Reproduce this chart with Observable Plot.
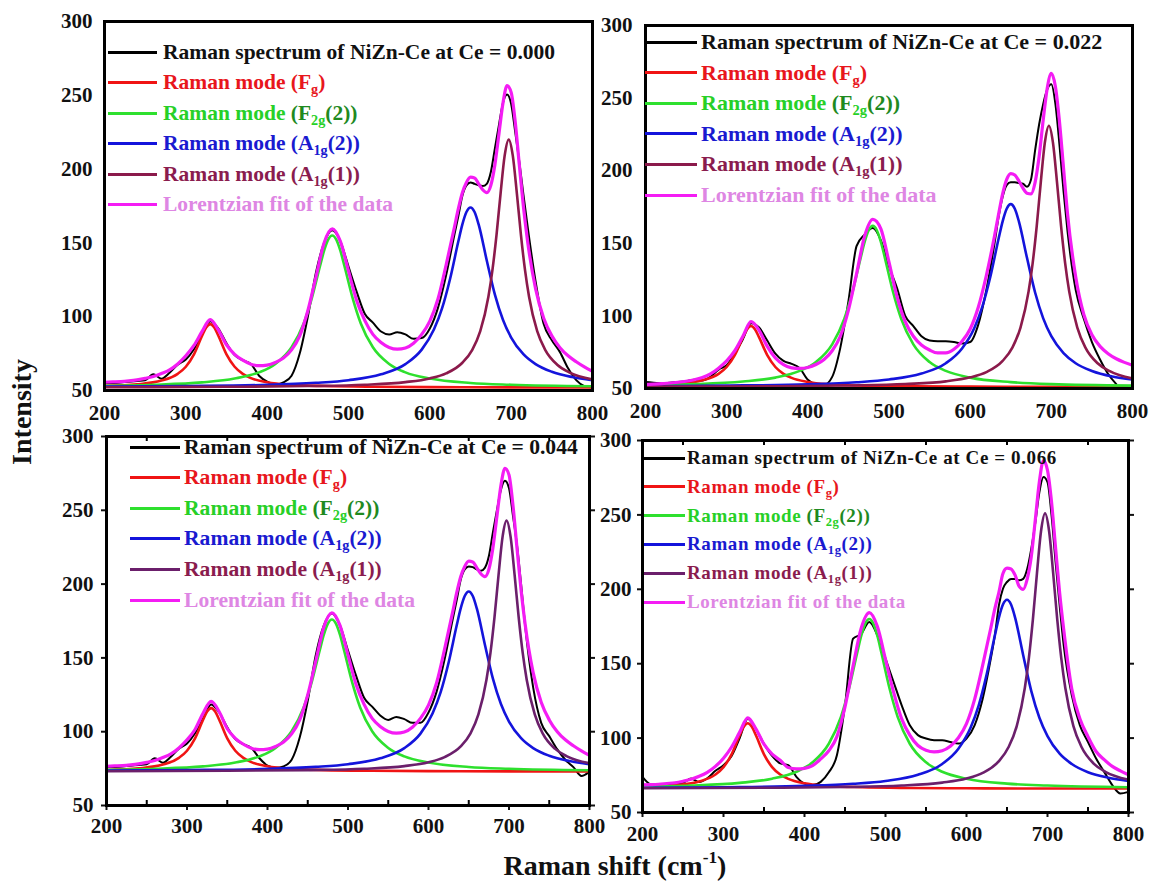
<!DOCTYPE html>
<html>
<head>
<meta charset="utf-8">
<script src="https://cdn.jsdelivr.net/npm/d3@7"></script>
<script src="https://cdn.jsdelivr.net/npm/@observablehq/plot@0.6"></script>
<style>
  body { margin: 0; background: #fff; }
  #fig { position: relative; width: 1149px; height: 883px; overflow: hidden;
         font-family: "Liberation Serif", "Times New Roman", serif; font-weight: bold; color: #111; }
  .row { position: absolute; white-space: nowrap; display: flex; align-items: center; height: 30px; }
  .sw { display: inline-block; height: 0; border-top: 3px solid; }
  .row sub { font-size: 0.66em; vertical-align: -0.32em; line-height: 0; }
  .dk { color: #1f8a1f; }
  .title { position: absolute; white-space: nowrap; font-size: 28px; }
  .title sup { font-size: 0.62em; vertical-align: 0.7em; line-height: 0; }
</style>
</head>
<body>
<div id="fig"></div>
<script>
// ---- axes ----
const xTicks = [200, 300, 400, 500, 600, 700, 800];
const yTicks = [50, 100, 150, 200, 250, 300];
const minorXTicks = [250, 350, 450, 550, 650, 750];
const ceLevels = ["0.000", "0.022", "0.044", "0.066"];

// ---- legend labels ----
const legendLabels = [
  "Raman spectrum of NiZn-Ce at Ce = ",
  "Raman mode (F<sub>g</sub>)",
  "Raman mode <span class=\"dk\">(F</span><sub>2g</sub><span class=\"dk\">(2))</span>",
  "Raman mode (A<sub>1g</sub>(2))",
  "Raman mode (A<sub>1g</sub>(1))",
  "Lorentzian fit of the data"
];

// ---- Raman shift sampling (cm^-1) ----
const shiftGrid = [200,210,220,230,240,250,260,270,280,290,300,310,320,330,340,350,360,370,380,390,400,410,420,430,440,450,460,470,480,490,500,510,520,530,540,550,560,570,580,590,600,610,620,630,635,640,645,650,655,660,665,670,675,680,685,690,695,700,705,710,715,720,730,740,750,760,770,780,790,800];
const fgShift   = [200,240,270,290,300,310,320,325,330,335,340,350,360,370,380,400,430,470,530,600,700,800];
const f2gShift  = [200,260,320,360,390,410,430,445,455,465,470,475,480,485,490,495,505,515,530,550,570,600,650,700,800];
const a1g2Shift = [200,300,400,460,500,540,570,590,605,615,625,635,640,645,650,655,660,670,680,690,700,715,730,750,775,800];
const a1g1Shift = [200,350,450,520,570,600,620,640,652,662,672,677,682,687,692,697,702,707,712,717,722,732,742,757,772,800];

// ---- Ce = 0.000 ----
const spec_000 = [55,55,55.5,56,56.5,57,61,58,62,67.5,71,78,88,97,92,82,74,70.5,68,60,56,54,55.5,60,75,100,130,150,158.5,151,134,117,102,96,90,88,89.5,88,85,85.5,92,106,128,155,168,182,189,191,190,189,188.5,190,198,214,230,245,250.5,244,225,205,183,162,124,95,84,76,65,57,53,52];
const fit_000 = [55.6,55.8,56,56.5,57.2,58.2,59.5,61.5,64,68,73.5,80.5,90,98,91,81,74.5,70.5,67.8,66.8,67.2,69,72,77.5,87,104,127,150,159.5,151,131,111,97.5,88,82.5,79.2,78,78.8,82,88,97,112,135,160,173,184,191,194.5,194,190,186,184,189,203,224,245,256.5,252,232,203,175,152,119,99,87,79,73.5,69.5,66,63];
const fg_000 = [53.1,54.2,56.7,61.3,66.1,74.5,87.1,92.7,95,92.7,87.1,74.5,66.1,61.3,58.4,55.6,53.8,53.0,52.5,52.3,52.1,52.1];
const f2g_000 = [53.2,53.9,55.5,58.1,62.3,68.0,79.3,95.6,112.8,134.4,144.7,152.2,155,152.2,144.7,134.4,112.8,95.6,79.3,68.0,62.3,58.1,55.1,53.9,52.9];
const a1g2_000 = [52.6,53.0,53.8,55.2,57.0,61.0,67.9,77.7,91.3,105.6,125.9,150.9,162.5,170.9,174,170.9,162.5,138.1,115.0,97.8,85.9,74.6,67.9,62.7,59.1,57.0];
const a1g1_000 = [52.2,52.5,53.0,53.9,55.7,58.2,61.6,68.8,77.4,90.2,113.5,131.7,155.5,183.6,209.1,220,209.1,183.6,155.5,131.7,113.5,90.2,77.4,67.3,62.1,57.5];

// ---- Ce = 0.022 ----
const spec_022 = [54.5,54,53.5,54,54.5,55,56,55.5,58,63,66,74,84,95,92,83,74,69,67,64,56,53,52.5,58,78,110,148,156,160.5,152,134,119,100,93,86,83,82.5,82.5,82,81,82,94,118,150,168,182,190,192,192,191.5,191,189,194,214,232,246,256,259.5,246,218,186,158,118,98,82,70,60,53,null,null];
const fit_022 = [52.8,53,53.3,53.8,54.3,55,56,57.5,60,64,69,76,86,96,90,79,71,66.5,64.2,63.8,64.5,66.5,70,76,86,104,129,155,166.5,160,137,113,96,86,80,76.5,74.5,74.5,77,82.5,91,106,128,155,170,184,194,198,197,193,188,184.5,184,192,210,235,257,267,258,234,202,170,127,101,87,79,74,70.5,68,66];
const fg_022 = [52.1,53.2,55.6,60.1,64.8,73.0,85.2,90.7,93,90.7,85.2,73.0,64.8,60.1,57.3,54.5,52.8,51.9,51.5,51.3,51.1,51.1];
const f2g_022 = [52.3,53.0,54.8,57.5,62.1,68.2,80.4,98.0,116.5,139.8,150.9,159.0,162,159.0,150.9,139.8,116.5,98.0,80.4,68.2,62.1,57.5,54.4,53.0,52.0];
const a1g2_022 = [51.6,52.0,52.9,54.3,56.2,60.3,67.4,77.6,91.5,106.4,127.3,153.1,165.1,173.8,177,173.8,165.1,140.0,116.1,98.3,86.0,74.4,67.4,62.1,58.3,56.2];
const a1g1_022 = [51.3,51.5,52.1,53.1,54.9,57.7,61.3,69,78.2,92.0,116.9,136.4,161.9,192.0,219.3,231,219.3,192.0,161.9,136.4,116.9,92.0,78.2,67.4,61.9,56.9];

// ---- Ce = 0.044 ----
const spec_044 = [76,76,76.5,77,77.5,78,82,79,83,88.5,92,99,109,118.5,113,103,95,91.5,89,82,77,75.5,76.5,81,96,121,152,172,180,172,155,138,123,117,111,108,110,108.5,106,106,113,127,149,176,189,203,210,212,211.5,210,209,211,219,235,250,264,270,265,246,226,200,172,130,106,97,88,81,76,70,73];
const fit_044 = [76.6,76.8,77,77.5,78.2,79.2,80.5,82.5,85,89,94.5,101.5,112.5,120.5,113.5,102,95.5,91.5,88.8,87.8,88.2,90,93,98.5,108,125,148,171,180.5,172,152,132,118.5,109,103.5,100.2,99,99.8,103,109,118,133,156,181,194,205,212,215.5,215,211,207,205,210,224.5,246,267,278.5,274,253,224,196,173,140,120,108,100,94.5,90.5,87,84];
const fg_044 = [74.1,75.2,77.7,82.3,87.1,95.5,108.1,113.7,116,113.7,108.1,95.5,87.1,82.3,79.4,76.6,74.8,74.0,73.5,73.3,73.1,73.1];
const f2g_044 = [74.2,74.9,76.5,79.1,83.3,89.0,100.3,116.6,133.8,155.4,165.7,173.2,176,173.2,165.7,155.4,133.8,116.6,100.3,89.0,83.3,79.1,76.1,74.9,73.9];
const a1g2_044 = [73.6,74.0,74.8,76.2,78.0,82.0,88.9,98.7,112.3,126.6,146.9,171.9,183.5,191.9,195,191.9,183.5,159.1,136.0,118.8,106.9,95.6,88.9,83.7,80.1,78.0];
const a1g1_044 = [73.2,73.5,74.0,74.9,76.7,79.3,82.8,90,98.7,111.7,135.2,153.6,177.7,206.1,232.0,243,232.0,206.1,177.7,153.6,135.2,111.7,98.7,88.5,83.3,78.6];

// ---- Ce = 0.066 ----
const spec_066 = [74,69,68.5,69,69.5,70,72.8,70.5,73,78,81.8,88,100,113,106,96,88,83,81.8,74,69.5,68.4,70.6,77,88.5,122,166.8,170,178,169,153.4,137.7,122,108.6,102,99.7,98.6,98.6,97.4,96.3,99.7,108.6,126.5,153.4,169,189.2,200.4,204.9,207,207,206,207,213.8,227.3,245,265.3,275.4,272,249.6,218.3,189.2,162.4,128.8,108.6,97.4,86.3,77.3,68.4,62.8,63.9];
const fit_066 = [68.5,68.7,69,69.5,70,71,72.3,74.3,77,81,86.5,94,104,113.6,106.2,95.9,89.2,85.1,80.2,79.3,79.7,81.5,86,91.5,101,121,148.5,173.8,184.3,174.9,152.9,130.9,112.9,102,95,91.8,90.7,91.5,94.5,100.2,109.7,126,149,174,187,198,210.6,214.2,213.7,209.5,202,200,207,222,247,272.5,286.5,280,258.6,227.6,197.6,173,133,113,101,91,85.5,81,78,75.4];
const fg_066 = [67.1,68.3,70.8,75.5,80.5,89.1,101.9,107.6,110,107.6,101.9,89.1,80.5,75.5,72.6,69.6,67.9,67.0,66.5,66.3,66.1,66.1];
const f2g_066 = [67.3,68.1,69.9,72.7,77.4,83.7,96.2,114.3,133.3,157.2,168.6,176.9,180,176.9,168.6,157.2,133.3,114.3,96.2,83.7,77.4,72.7,69.4,68.1,67.0];
const a1g2_066 = [66.6,67.0,67.9,69.3,71.2,75.3,82.6,92.8,106.9,121.8,143.0,168.9,181.0,189.8,193,189.8,181.0,155.7,131.6,113.7,101.3,89.5,82.6,77.1,73.4,71.2];
const a1g1_066 = [66.3,66.6,67.1,68.1,70.1,72.8,76.6,84.5,94.0,108.1,133.7,153.8,180.0,210.9,239.0,251,239.0,210.9,180.0,153.8,133.7,108.1,94.0,82.9,77.2,72.1];

const series = [
  {spec: spec_000, fit: fit_000, fg: fg_000, f2g: f2g_000, a1g2: a1g2_000, a1g1: a1g1_000},
  {spec: spec_022, fit: fit_022, fg: fg_022, f2g: f2g_022, a1g2: a1g2_022, a1g1: a1g1_022},
  {spec: spec_044, fit: fit_044, fg: fg_044, f2g: f2g_044, a1g2: a1g2_044, a1g1: a1g1_044},
  {spec: spec_066, fit: fit_066, fg: fg_066, f2g: f2g_066, a1g2: a1g2_066, a1g1: a1g1_066}
];

// ---- styling ----
const lineColors = {spec: "#000000", fg: "#f01414", f2g: "#2ee02e", a1g2: "#1414dc", fit: "#f41cf4"};
const textColors = ["#111111", "#e8161c", "#27d027", "#1a1ad0", "#8a1c4e", "#de86e3"];

// frame box [left, top, right, bottom] of each panel, axis tick style, legend placement
const layout = [
  {box: [104, 21, 592, 390], tick: 0, xPad: 15, yPad: 12, a1Color: "#8b1a4b",
   legend: {x: 108, y: 52, step: 30.5, swatch: 49, gap: 6, font: 21.5, spacing: 0}},
  {box: [645, 25, 1132, 388], tick: 0, xPad: 15, yPad: 13, a1Color: "#8b1a4b",
   legend: {x: 645, y: 42, step: 30.6, swatch: 52, gap: 4, font: 22, spacing: 0}},
  {box: [106, 436, 589, 805], tick: 5, xPad: 8, yPad: 8, a1Color: "#6b1f6b",
   legend: {x: 130, y: 447, step: 30.6, swatch: 50, gap: 4, font: 21.6, spacing: 0}},
  {box: [642, 440, 1128, 812], tick: 5, xPad: 9, yPad: 6, a1Color: "#6b1f6b",
   legend: {x: 644, y: 458, step: 28.8, swatch: 41, gap: 2, font: 19, spacing: 0.6}}
];

const fig = document.getElementById("fig");

function drawPanel(i) {
  const L = layout[i], S = series[i];
  const [x0, y0, x1, y1] = L.box;
  const mL = 60, mR = 14, mT = 12, mB = 40;
  const w = x1 - x0, h = y1 - y0;
  const pts = (xs, ys) => xs.map((x, k) => ({x, y: ys[k]}));
  const line = (xs, ys, stroke, sw) =>
    Plot.line(pts(xs, ys), {x: "x", y: "y", stroke, strokeWidth: sw, curve: "monotone-x", clip: true});

  const marks = [
    line(shiftGrid, S.spec, lineColors.spec, 2),
    line(fgShift, S.fg, lineColors.fg, 2.6),
    line(f2gShift, S.f2g, lineColors.f2g, 2.6),
    line(a1g2Shift, S.a1g2, lineColors.a1g2, 2.6),
    line(a1g1Shift, S.a1g1, L.a1Color, 2.6),
    line(shiftGrid, S.fit, lineColors.fit, 3.2),
    Plot.axisX({ticks: xTicks, tickSize: L.tick, tickPadding: L.xPad, label: null, strokeWidth: 2}),
    Plot.axisY({ticks: yTicks, tickSize: L.tick, tickPadding: L.yPad, label: null, strokeWidth: 2})
  ];
  if (L.tick) {
    marks.push(
      Plot.axisY({anchor: "right", ticks: yTicks, tickSize: L.tick, tickFormat: () => "", label: null, strokeWidth: 2}),
      Plot.tickX(minorXTicks, {x: d => d, insetTop: h - 5, stroke: "#000", strokeWidth: 2}),
      Plot.tickX(minorXTicks, {x: d => d, insetBottom: h - 5, stroke: "#000", strokeWidth: 2})
    );
  }
  marks.push(Plot.frame({stroke: "#000", strokeWidth: 3}));

  const svg = Plot.plot({
    width: w + mL + mR,
    height: h + mT + mB,
    marginLeft: mL, marginRight: mR, marginTop: mT, marginBottom: mB,
    x: {domain: [200, 800]},
    y: {domain: [50, 300]},
    style: {
      fontFamily: "'Liberation Serif', 'Times New Roman', serif",
      fontSize: "21px", fontWeight: "bold", color: "#111",
      background: "transparent", overflow: "visible"
    },
    marks
  });
  svg.style.position = "absolute";
  svg.style.left = (x0 - mL) + "px";
  svg.style.top = (y0 - mT) + "px";
  svg.style.maxWidth = "none";
  fig.appendChild(svg);

  // legend inside the frame
  const G = L.legend;
  const swatchColors = [lineColors.spec, lineColors.fg, lineColors.f2g, lineColors.a1g2, L.a1Color, lineColors.fit];
  legendLabels.forEach((label, k) => {
    const row = document.createElement("div");
    row.className = "row";
    row.style.left = G.x + "px";
    row.style.top = (G.y + k * G.step - 15) + "px";
    row.style.fontSize = G.font + "px";
    row.style.letterSpacing = G.spacing + "px";
    const text = k === 0 ? label + ceLevels[i] : label;
    row.innerHTML =
      `<span class="sw" style="width:${G.swatch}px;border-top-color:${swatchColors[k]}"></span>` +
      `<span style="color:${textColors[k]};margin-left:${G.gap}px">${text}</span>`;
    fig.appendChild(row);
  });
}

for (let i = 0; i < 4; i++) drawPanel(i);

// shared axis titles
const yTitle = document.createElement("div");
yTitle.className = "title";
yTitle.textContent = "Intensity";
yTitle.style.left = "22px";
yTitle.style.top = "412px";
yTitle.style.transform = "translate(-50%, -50%) rotate(-90deg)";
fig.appendChild(yTitle);

const xTitle = document.createElement("div");
xTitle.className = "title";
xTitle.innerHTML = "Raman shift (cm<sup>-1</sup>)";
xTitle.style.left = "615px";
xTitle.style.top = "866px";
xTitle.style.transform = "translate(-50%, -50%)";
fig.appendChild(xTitle);
</script>
</body>
</html>
